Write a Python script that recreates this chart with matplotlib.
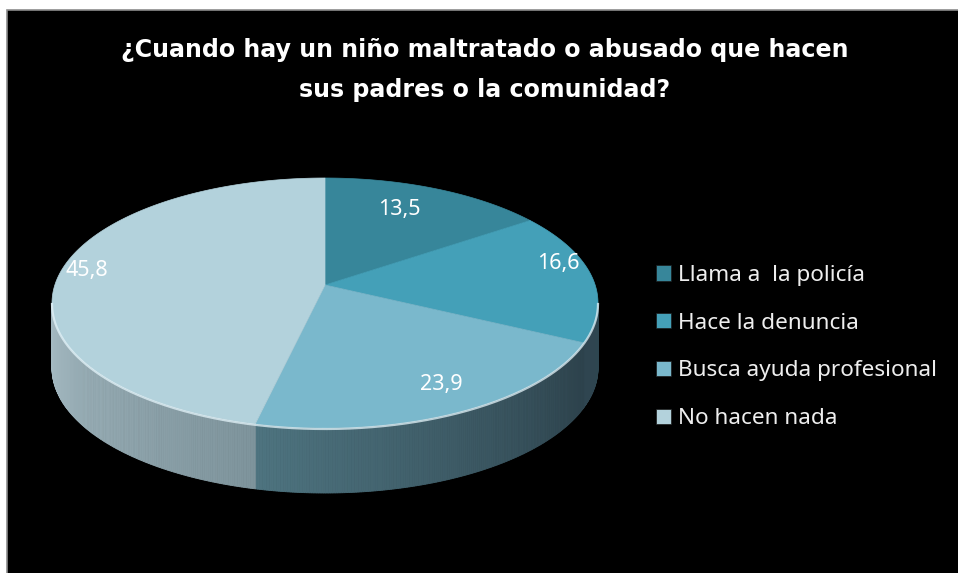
import numpy as np
import matplotlib.pyplot as plt
from matplotlib.patches import Polygon, Rectangle, Patch
from matplotlib.colors import to_rgb

title = "¿Cuando hay un niño maltratado o abusado que hacen\nsus padres o la comunidad?"
categories = ["Llama a  la policía", "Hace la denuncia", "Busca ayuda profesional", "No hacen nada"]
values = [13.5, 16.6, 23.9, 45.8]

top_colors = ["#37869A", "#44A0B8", "#7AB8CC", "#B3D2DC"]
# side wall colours, (at start angle, at end angle of the visible part)
side_colors = [("#2E4650", "#2E4650"), ("#2E4650", "#2F4550"),
               ("#2D424C", "#4E7480"), ("#7E949C", "#A5BAC2")]
label_r = [0.66, 0.87, 0.9, 0.88]

plt.rcParams['font.family'] = ['Noto Sans', 'DejaVu Sans']

fig = plt.figure(figsize=(9.58, 5.73), dpi=100, facecolor='white')
ax = fig.add_axes([0, 0, 1, 1])
ax.set_xlim(0, 958)
ax.set_ylim(573, 0)
ax.axis('off')

ax.add_patch(Rectangle((7, 10), 960, 570, facecolor='black', edgecolor='#8c8c8c', lw=1.2, zorder=0))

# pie geometry in pixels
cx, cy = 325, 303
a, b = 273, 125
vx, vy = 325, 285
depth = 65


def ell(theta, dy=0.0):
    t = np.radians(theta)
    return cx + a * np.sin(t), cy - b * np.cos(t) + dy


bounds = np.concatenate([[0], np.cumsum(values)]) / np.sum(values) * 360

# side walls (front half only)
for i in range(len(values)):
    s, e = bounds[i], bounds[i + 1]
    lo, hi = max(s, 90), min(e, 270)
    if hi <= lo:
        continue
    c0, c1 = np.array(to_rgb(side_colors[i][0])), np.array(to_rgb(side_colors[i][1]))
    steps = np.linspace(lo, hi, int((hi - lo) * 2) + 2)
    for j in range(len(steps) - 1):
        t1, t2 = steps[j], steps[j + 1]
        f = (0.5 * (t1 + t2) - lo) / (hi - lo)
        col = c0 + (c1 - c0) * f
        x1, y1 = ell(t1)
        x2, y2 = ell(t2)
        x3, y3 = ell(t2, depth)
        x4, y4 = ell(t1, depth)
        ax.add_patch(Polygon([(x1, y1), (x2, y2), (x3, y3), (x4, y4)], closed=True,
                             facecolor=col, edgecolor=col, lw=0.6, zorder=2))

# top face
for i in range(len(values)):
    arc = np.linspace(bounds[i], bounds[i + 1], 200)
    xs, ys = ell(arc)
    pts = [(vx, vy)] + list(zip(xs, ys))
    ax.add_patch(Polygon(pts, closed=True, facecolor=top_colors[i], edgecolor=top_colors[i],
                         lw=0.5, zorder=3))

# light rim along the front edge
rim = np.linspace(90, 270, 300)
rx, ry = ell(rim)
ax.plot(rx, ry + 1, color='#e4f4fa', lw=1.6, alpha=0.75, zorder=4)

# data labels
for i, v in enumerate(values):
    mid = 0.5 * (bounds[i] + bounds[i + 1])
    t = np.radians(mid)
    lx = vx + a * np.sin(t) * label_r[i]
    ly = vy - b * np.cos(t) * label_r[i]
    ax.text(lx, ly, f"{v:.1f}".replace('.', ','), color='white', fontsize=15.5,
            ha='center', va='center', zorder=5)

ax.text(485, 70, title, color='white', fontsize=17.1, fontweight='bold',
        family=['DejaVu Sans'], ha='center', va='center', linespacing=1.8)

handles = [Patch(facecolor=c, edgecolor='#1a1a1a', lw=0.5) for c in top_colors]
ax.legend(handles, categories, loc='center left', bbox_to_anchor=(656, 347),
          bbox_transform=ax.transData, frameon=False, fontsize=16.2, labelcolor='#eeeeee',
          handlelength=0.68, handleheight=0.68, handletextpad=0.32, labelspacing=1.19,
          borderpad=0, borderaxespad=0)

fig.savefig('out.png', dpi=100, facecolor=fig.get_facecolor())
